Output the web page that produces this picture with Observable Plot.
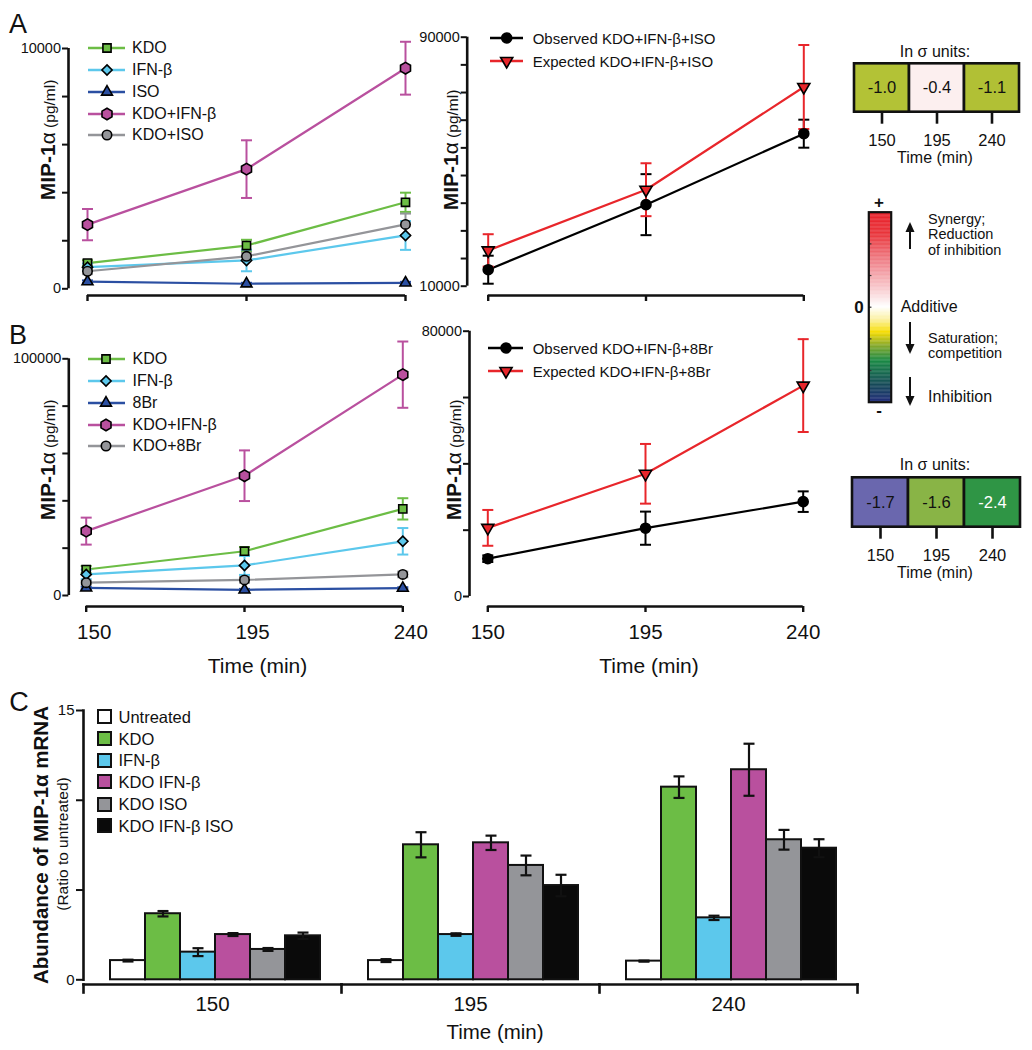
<!DOCTYPE html>
<html>
<head>
<meta charset="utf-8">
<script src="https://cdn.jsdelivr.net/npm/d3@7"></script>
<script src="https://cdn.jsdelivr.net/npm/@observablehq/plot@0.6"></script>
<style>
  html, body { margin: 0; padding: 0; background: #fff; }
  #fig { position: relative; width: 1032px; height: 1050px; overflow: hidden; background: #fff;
         font-family: "Liberation Sans", Arial, Helvetica, sans-serif; color: #111; }
</style>
</head>
<body>
<div id="fig"></div>
<script>
// ---------------- DATA ----------------
const times = [150, 195, 240];

// Panel A (left): MIP-1α secretion, ISO experiment (pg/ml)
const aNames = ["KDO", "IFN-β", "ISO", "KDO+IFN-β", "KDO+ISO"];
const aKDO = [1070, 1800, 3600];
const aKDOErr = [120, 240, 400];
const aIFN = [900, 1180, 2220];
const aIFNErr = [150, 450, 600];
const aISO = [300, 210, 250];
const aISOErr = [50, 40, 40];
const aKDOIFN = [2670, 4980, 9180];
const aKDOIFNErr = [650, 1200, 1100];
const aKDOISO = [730, 1350, 2680];
const aKDOISOErr = [120, 150, 450];

// Panel A (right): observed vs expected KDO+IFN-β+ISO
const aRightNames = ["Observed KDO+IFN-β+ISO", "Expected KDO+IFN-β+ISO"];
const aObs = [15300, 36200, 59000];
const aObsErr = [4500, 9800, 4500];
const aExp = [21500, 41000, 74000];
const aExpErr = [5200, 8500, 13500];

// Panel B (left): 8Br experiment (pg/ml)
const bNames = ["KDO", "IFN-β", "8Br", "KDO+IFN-β", "KDO+8Br"];
const bKDO = [10980, 18700, 36600];
const bKDOErr = [1500, 1800, 4500];
const bIFN = [8900, 12700, 22900];
const bIFNErr = [2000, 4000, 5600];
const b8Br = [3200, 2400, 3100];
const b8BrErr = [500, 400, 400];
const bKDOIFN = [27200, 50600, 93300];
const bKDOIFNErr = [5700, 10700, 14000];
const bKDO8Br = [5400, 6600, 8900];
const bKDO8BrErr = [800, 1200, 1200];

// Panel B (right): observed vs expected KDO+IFN-β+8Br
const bRightNames = ["Observed KDO+IFN-β+8Br", "Expected KDO+IFN-β+8Br"];
const bObs = [11400, 20600, 28600];
const bObsErr = [1000, 5000, 3100];
const bExp = [20700, 37000, 63600];
const bExpErr = [5400, 9000, 14000];

// Axis ticks
const aLeftTicks = [0, 2000, 4000, 6000, 8000, 10000];
const aLeftLabels = [0, 10000];
const aRightDomain = [10000, 90000];
const aRightLabels = [10000, 90000];
const bLeftTicks = [0, 20000, 40000, 60000, 80000, 100000];
const bLeftLabels = [0, 100000];
const bRightTicks = [0, 20000, 40000, 60000, 80000];
const bRightLabels = [0, 80000];

// Heat maps (σ units)
const isoSigma = [-1.0, -0.4, -1.1];
const br8Sigma = [-1.7, -1.6, -2.4];

// Panel C: MIP-1α mRNA (ratio to untreated)
const treatments = ["Untreated", "KDO", "IFN-β", "KDO IFN-β", "KDO ISO", "KDO IFN-β ISO"];
const c150 = [1.07, 3.68, 1.54, 2.52, 1.69, 2.45];
const c150Err = [0.05, 0.15, 0.22, 0.08, 0.08, 0.18];
const c195 = [1.07, 7.52, 2.52, 7.63, 6.37, 5.25];
const c195Err = [0.08, 0.7, 0.07, 0.4, 0.55, 0.6];
const c240 = [1.04, 10.73, 3.45, 11.7, 7.8, 7.33];
const c240Err = [0.03, 0.6, 0.12, 1.45, 0.55, 0.5];
const cTicks = [0, 5, 10, 15];
const cLabels = [0, 15];

// ---------------- STYLES ----------------
const FONT = '"Liberation Sans", Arial, Helvetica, sans-serif';
const INK = "#111";
const COLORS = {kdo: "#6cbd45", ifn: "#5cc8ec", drug: "#2b4fa2", combo: "#b9509e", kdoDrug: "#949599", obs: "#000000", exp: "#e8262b"};
const SYMBOLS = {kdo: "square", ifn: "diamond2", drug: "triangle2", combo: "hexagon", kdoDrug: "circle", obs: "circle", exp: "triangle2"};
const RADII = {kdo: 4.6, ifn: 4.6, drug: 5.2, combo: 5.0, kdoDrug: 4.7, obs: 5, exp: 5.8};
const C_COLORS = ["#ffffff", "#6cbd45", "#5cc8ec", "#b9509e", "#949599", "#0a0a0a"];
const ISO_HEAT = ["#b3c236", "#fcefef", "#b1c035"];
const BR_HEAT = ["#6a67ae", "#89b446", "#2f9545"];
const BR_TEXT = ["#111", "#111", "#fff"];
const CB_STOPS = [-3, -2.5, -1.7, -1.2, -0.8, -0.4, 0, 0.6, 1.5, 2.3, 3];
const CB_COLORS = ["#222c7a", "#16475a", "#1a8a45", "#8cab2a", "#f6dc00", "#fbf1a0", "#ffffff", "#f8c8cc", "#ef7d85", "#e9363c", "#e8202a"];

const CAP = {draw(ctx) { ctx.moveTo(-5.5, 0); ctx.lineTo(5.5, 0); }};
const HEX = {draw(ctx, size) {
  const rx = Math.sqrt(size / Math.PI), ry = rx * 2 / Math.sqrt(3), hy = ry / 2;
  ctx.moveTo(0, ry); ctx.lineTo(rx, hy); ctx.lineTo(rx, -hy); ctx.lineTo(0, -ry);
  ctx.lineTo(-rx, -hy); ctx.lineTo(-rx, hy); ctx.closePath();
}};
const D3SYM = {square: d3.symbolSquare, diamond2: d3.symbolDiamond2, triangle2: d3.symbolTriangle2, hexagon: HEX, circle: d3.symbolCircle};

// ---------------- HELPERS ----------------
const FIG = document.getElementById("fig");
function put(node, left, top) {
  node.style.position = "absolute";
  node.style.left = left + "px";
  node.style.top = top + "px";
  node.style.background = "transparent";
  node.style.overflow = "visible";
  FIG.appendChild(node);
  return node;
}
function text(html, x, y, o = {}) {
  const d = document.createElement("div");
  d.innerHTML = html;
  Object.assign(d.style, {
    position: "absolute", left: x + "px", top: y + "px", fontSize: (o.size || 16) + "px",
    fontWeight: o.weight || "normal", color: o.color || INK, whiteSpace: "nowrap",
    lineHeight: o.lineHeight || "1", fontFamily: FONT
  });
  const tx = o.anchor === "start" ? "0" : o.anchor === "end" ? "-100%" : "-50%";
  d.style.transform = `translate(${tx},-50%)` + (o.rotate ? ` rotate(${o.rotate}deg)` : "");
  FIG.appendChild(d);
  return d;
}
function isLabel(list) { return d => list.some(v => Math.abs(v - d) < 1e-6) ? String(Math.round(d)) : ""; }

function linePanel(cfg) {
  const {series, left, top, width, height, axisX, yTop, yBot, xAxisY, x0, x1, yDomain, yTicks, yLabels, showX, labelDx = 0} = cfg;
  const marks = [
    Plot.ruleX([times[0]], {y1: yDomain[0], y2: yDomain[1], dx: axisX - x0, stroke: INK, strokeWidth: 2.6}),
    Plot.ruleY([yDomain[0]], {x1: times[0], x2: times[2], dy: xAxisY - yBot, stroke: INK, strokeWidth: 2.6}),
    Plot.axisY({ticks: yTicks, tickFormat: isLabel(yLabels), tickSize: 6, tickPadding: 1.5, strokeWidth: 2, fontSize: 14.5, label: null}),
    Plot.axisX({ticks: times, tickFormat: () => "", tickSize: 6, strokeWidth: 2.4, label: null})
  ];
  if (showX) marks.push(Plot.axisX({ticks: times, tickFormat: d => String(d), tickSize: 0, tickPadding: 18, dx: labelDx, fontSize: 20.5, label: null}));
  const rowsBy = series.map(s => times.map((t, i) => ({name: s.name, role: s.role, time: t, value: s.values[i], err: s.errs[i]})));
  series.forEach((s, k) => {
    const d = rowsBy[k], c = COLORS[s.role];
    marks.push(
      Plot.ruleX(d, {x: "time", y1: r => r.value - r.err, y2: r => r.value + r.err, stroke: c, strokeWidth: 2}),
      Plot.dot(d, {x: "time", y: r => r.value + r.err, symbol: CAP, stroke: c, strokeWidth: 2}),
      Plot.dot(d, {x: "time", y: r => r.value - r.err, symbol: CAP, stroke: c, strokeWidth: 2}),
      Plot.line(d, {x: "time", y: "value", stroke: c, strokeWidth: 2.2})
    );
  });
  series.forEach((s, k) => {
    const d = rowsBy[k];
    marks.push(Plot.dot(d, {
      x: "time", y: "value", symbol: SYMBOLS[s.role], r: RADII[s.role],
      fill: COLORS[s.role], stroke: "#000", strokeWidth: 1.6, rotate: s.role === "exp" ? 180 : 0
    }));
  });
  const svg = Plot.plot({
    width, height,
    marginLeft: axisX - left, marginRight: 0, marginTop: 0, marginBottom: height - (xAxisY - top),
    x: {domain: [times[0], times[2]], range: [x0 - left, x1 - left]},
    y: {domain: yDomain, range: [yBot - top, yTop - top]},
    style: {background: "transparent", fontFamily: FONT, color: INK, overflow: "visible"},
    marks
  });
  put(svg, left, top);
}

function legendRows(series, {lineStart, lineEnd, symX, textX, rows, size}) {
  series.forEach((s, i) => {
    const cy = rows[i];
    const w = lineEnd - lineStart;
    const svg = d3.create("svg").attr("width", w + 4).attr("height", 18)
      .style("position", "absolute").style("left", (lineStart - 2) + "px").style("top", (cy - 9) + "px").style("overflow", "visible");
    svg.append("line").attr("x1", 2).attr("x2", w + 2).attr("y1", 9).attr("y2", 9)
      .attr("stroke", COLORS[s.role]).attr("stroke-width", 2.4);
    const r = RADII[s.role];
    svg.append("path").attr("d", d3.symbol(D3SYM[SYMBOLS[s.role]], Math.PI * r * r)())
      .attr("transform", `translate(${symX - lineStart + 2},9)` + (s.role === "exp" ? " rotate(180)" : ""))
      .attr("fill", COLORS[s.role]).attr("stroke", "#000").attr("stroke-width", 1.6);
    FIG.appendChild(svg.node());
    text(s.name, textX, cy, {anchor: "start", size});
  });
}

function yTitle(x, y) {
  text('<b style="font-size:21px">MIP-1</b><span style="font-size:21px">α</span><span style="font-size:15.5px"> (pg/ml)</span>', x, y, {rotate: -90});
}

function heatPanel(values, fills, textFills, left, top, width, height, mTop, mBottom, mLeft, mRight, pad) {
  const rows = times.map((t, i) => ({time: t, value: values[i]}));
  const svg = Plot.plot({
    width, height, marginTop: mTop, marginBottom: mBottom, marginLeft: mLeft, marginRight: mRight,
    x: {domain: times, padding: 0},
    color: {type: "identity"},
    style: {background: "transparent", fontFamily: FONT, color: INK, overflow: "visible"},
    marks: [
      Plot.cell(rows, {x: "time", fill: (d, i) => fills[i], stroke: INK, strokeWidth: 2.6}),
      Plot.text(rows, {x: "time", text: d => d.value.toFixed(1), fill: (d, i) => textFills[i], fontSize: 16.5}),
      Plot.axisX({tickSize: 12, tickPadding: pad, strokeWidth: 2.6, fontSize: 16.5, label: null})
    ]
  });
  put(svg, left, top);
}

// ---------------- PANEL A ----------------
const aLeftSeries = [
  {name: aNames[0], role: "kdo", values: aKDO, errs: aKDOErr},
  {name: aNames[1], role: "ifn", values: aIFN, errs: aIFNErr},
  {name: aNames[2], role: "drug", values: aISO, errs: aISOErr},
  {name: aNames[3], role: "combo", values: aKDOIFN, errs: aKDOIFNErr},
  {name: aNames[4], role: "kdoDrug", values: aKDOISO, errs: aKDOISOErr}
];
linePanel({series: aLeftSeries, left: 0, top: 0, width: 420, height: 310, axisX: 68, yTop: 48, yBot: 288.3, xAxisY: 295,
  x0: 87, x1: 405, yDomain: [0, 10000], yTicks: aLeftTicks, yLabels: aLeftLabels, showX: false});
legendRows(aLeftSeries, {lineStart: 88, lineEnd: 125, symX: 107, textX: 132, rows: [48, 70, 92, 113.5, 135], size: 16});
yTitle(47, 140);

const aRightSeries = [
  {name: aRightNames[0], role: "obs", values: aObs, errs: aObsErr},
  {name: aRightNames[1], role: "exp", values: aExp, errs: aExpErr}
];
const aRightTicks = d3.range(10).map(i => aRightDomain[0] + i * (aRightDomain[1] - aRightDomain[0]) / 9);
linePanel({series: aRightSeries, left: 405, top: 0, width: 415, height: 310, axisX: 466.7, yTop: 36.7, yBot: 285.7, xAxisY: 295,
  x0: 487.7, x1: 803.3, yDomain: aRightDomain, yTicks: aRightTicks, yLabels: aRightLabels, showX: false});
legendRows(aRightSeries, {lineStart: 490, lineEnd: 523, symX: 506.7, textX: 532.7, rows: [38.3, 60.7], size: 15});
yTitle(450, 150);

// ---------------- PANEL B ----------------
const bLeftSeries = [
  {name: bNames[0], role: "kdo", values: bKDO, errs: bKDOErr},
  {name: bNames[1], role: "ifn", values: bIFN, errs: bIFNErr},
  {name: bNames[2], role: "drug", values: b8Br, errs: b8BrErr},
  {name: bNames[3], role: "combo", values: bKDOIFN, errs: bKDOIFNErr},
  {name: bNames[4], role: "kdoDrug", values: bKDO8Br, errs: bKDO8BrErr}
];
linePanel({series: bLeftSeries, left: 0, top: 310, width: 420, height: 345, axisX: 68.3, yTop: 358.3, yBot: 595, xAxisY: 606,
  x0: 85.7, x1: 402.3, yDomain: [0, 100000], yTicks: bLeftTicks, yLabels: bLeftLabels, showX: true, labelDx: 8});
legendRows(bLeftSeries, {lineStart: 88, lineEnd: 125, symX: 106, textX: 132.5, rows: [359.3, 381, 402.7, 425, 446], size: 16});
yTitle(47, 460);
text("Time (min)", 257.5, 665, {size: 21});

const bRightSeries = [
  {name: bRightNames[0], role: "obs", values: bObs, errs: bObsErr},
  {name: bRightNames[1], role: "exp", values: bExp, errs: bExpErr}
];
linePanel({series: bRightSeries, left: 405, top: 310, width: 415, height: 345, axisX: 469, yTop: 330.7, yBot: 596, xAxisY: 606,
  x0: 487.3, x1: 802.7, yDomain: [0, 80000], yTicks: bRightTicks, yLabels: bRightLabels, showX: true});
legendRows(bRightSeries, {lineStart: 488, lineEnd: 523, symX: 506, textX: 532.7, rows: [348.3, 370.7], size: 15});
yTitle(453, 460);
text("Time (min)", 649, 665, {size: 21});

// ---------------- HEAT MAPS + COLOR BAR ----------------
text("In σ units:", 935, 51.7, {size: 16});
heatPanel(isoSigma, ISO_HEAT, ["#111", "#111", "#111"], 845, 40, 185, 130, 23.3, 58.3, 7.7, 10.7, 10.5);
text("Time (min)", 935, 158, {size: 16});

text("In σ units:", 935, 465, {size: 16});
heatPanel(br8Sigma, BR_HEAT, BR_TEXT, 845, 440, 185, 130, 37.3, 43.3, 6.7, 10, 10);
text("Time (min)", 935, 573.3, {size: 16});

// colour bar
{
  const cbScale = d3.scaleLinear().domain(CB_STOPS).range(CB_COLORS).interpolate(d3.interpolateRgb);
  const step = 0.025;
  const steps = d3.range(-3, 3, step);
  const svg = Plot.plot({
    width: 40, height: 220, marginLeft: 13.3, marginRight: 4.3, marginTop: 16.7, marginBottom: 13.3,
    x: {domain: [0, 1], axis: null},
    y: {domain: [-3, 3], axis: null},
    color: {type: "identity"},
    style: {background: "transparent", overflow: "visible"},
    marks: [
      Plot.rect(steps, {x1: 0, x2: 1, y1: d => d, y2: d => Math.min(3, d + step * 1.4), fill: d => cbScale(d + step / 2)}),
      Plot.ruleY([-2, -1, 0, 1, 2], {x1: 0, x2: 0.14, stroke: "#333", strokeWidth: 1.2}),
      Plot.frame({stroke: INK, strokeWidth: 2.2})
    ]
  });
  put(svg, 855, 195);
}
text("+", 879, 201.5, {size: 17, weight: "bold"});
text("-", 879, 410, {size: 17, weight: "bold"});
text("0", 859, 306.7, {size: 17, weight: "bold"});

// annotation arrows
{
  const svg = d3.create("svg").attr("width", 1032).attr("height", 1050)
    .style("position", "absolute").style("left", "0px").style("top", "0px").style("pointer-events", "none");
  const arrows = [[910, 249, 222], [910, 322, 354], [910, 377, 406]];
  for (const [x, y0, y1] of arrows) {
    const dir = y1 > y0 ? 1 : -1;
    svg.append("line").attr("x1", x).attr("x2", x).attr("y1", y0).attr("y2", y1 - dir * 9)
      .attr("stroke", INK).attr("stroke-width", 2);
    svg.append("path").attr("d", `M${x - 4.5},${y1 - dir * 10} L${x + 4.5},${y1 - dir * 10} L${x},${y1} Z`).attr("fill", INK);
  }
  FIG.appendChild(svg.node());
}
text("Synergy;<br>Reduction<br>of inhibition", 928, 234.5, {anchor: "start", size: 14.5, lineHeight: "15.5px"});
text("Additive", 900.7, 306.7, {anchor: "start", size: 16});
text("Saturation;<br>competition", 928, 345.8, {anchor: "start", size: 14.5, lineHeight: "15.5px"});
text("Inhibition", 928, 396.7, {anchor: "start", size: 16});

// ---------------- PANEL C ----------------
{
  const cVals = [c150, c195, c240], cErrs = [c150Err, c195Err, c240Err];
  const rows = times.flatMap((t, ti) => treatments.map((tr, k) => ({time: t, treatment: tr, value: cVals[ti][k], err: cErrs[ti][k]})));
  const top = 690, height = 360, bottomPx = 992;
  const svg = Plot.plot({
    width: 880, height, marginLeft: 83, marginRight: 23, marginTop: 20, marginBottom: height - (bottomPx - top),
    fx: {domain: times, padding: 0},
    x: {domain: treatments, padding: 0, insetLeft: 27, insetRight: 21, axis: null},
    y: {domain: [0, 15], range: [979.3 - top, 710 - top]},
    color: {domain: treatments, range: C_COLORS},
    style: {background: "transparent", fontFamily: FONT, color: INK, overflow: "visible"},
    marks: [
      Plot.barY(rows, {fx: "time", x: "treatment", y: "value", fill: "treatment", stroke: INK, strokeWidth: 2}),
      Plot.ruleX(rows, {fx: "time", x: "treatment", y1: d => d.value - d.err, y2: d => d.value + d.err, stroke: INK, strokeWidth: 2.2}),
      Plot.dot(rows, {fx: "time", x: "treatment", y: d => d.value + d.err, symbol: CAP, stroke: INK, strokeWidth: 2.2}),
      Plot.dot(rows, {fx: "time", x: "treatment", y: d => d.value - d.err, symbol: CAP, stroke: INK, strokeWidth: 2.2}),
      Plot.frame({anchor: "bottom", insetBottom: 8, stroke: INK, strokeWidth: 2.6}),
      Plot.frame({anchor: "left", insetTop: (bottomPx - top) - 20 - 8, stroke: INK, strokeWidth: 2.6}),
      Plot.frame({anchor: "right", insetTop: (bottomPx - top) - 20 - 8, stroke: INK, strokeWidth: 2.6, facetAnchor: "right"}),
      Plot.frame({anchor: "left", insetBottom: bottomPx - 979.3, stroke: INK, strokeWidth: 2.6, facetAnchor: "left"}),
      Plot.axisY({ticks: cTicks, tickFormat: isLabel(cLabels), tickSize: 7, tickPadding: 2, strokeWidth: 2, fontSize: 15, label: null}),
      Plot.axisFx({anchor: "bottom", tickSize: 0, tickPadding: 4, fontSize: 20.5, label: null})
    ]
  });
  put(svg, 0, top);
}
// legend C
treatments.forEach((tr, i) => {
  const cy = [716.7, 738.7, 760, 781.7, 804, 825.7][i];
  const sw = document.createElement("div");
  Object.assign(sw.style, {position: "absolute", left: "97px", top: (cy - 7.5) + "px", width: "11px", height: "11px",
    background: C_COLORS[i], border: "2px solid #111"});
  FIG.appendChild(sw);
  text(tr, 118.5, cy, {anchor: "start", size: 16.5});
});
text("Abundance of MIP-1α mRNA", 41, 845, {rotate: -90, size: 20.5, weight: "bold"});
text("(Ratio to untreated)", 62.5, 844, {rotate: -90, size: 15.5});
text("Time (min)", 495, 1031.7, {size: 20.5});

// panel letters
text("A", 18, 24, {size: 27});
text("B", 18, 335, {size: 27});
text("C", 19, 702, {size: 27});
</script>
</body>
</html>
